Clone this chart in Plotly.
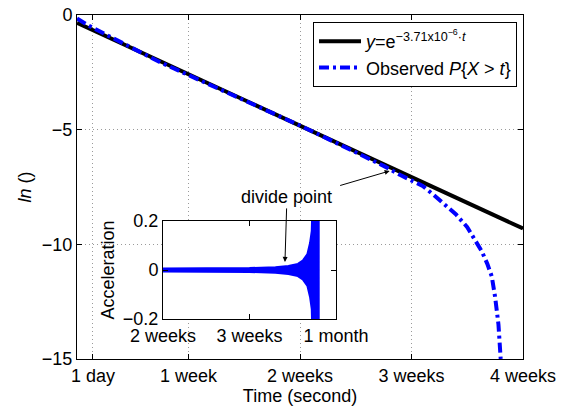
import plotly.graph_objects as go

WEEK = 604800
DAY = 86400

# ---- data ----
main_tick_vals = [DAY, WEEK, 2 * WEEK, 3 * WEEK, 4 * WEEK]
main_tick_text = ["1 day", "1 week", "2 weeks", "3 weeks", "4 weeks"]
y_tick_vals = [0, -5, -10, -15]

fit_t = [0, 4 * WEEK]
fit_y = [-0.34, -9.31]

obs_weeks = [0, 0.1, 0.25, 0.5, 0.75, 1.0, 1.25, 1.5, 1.75, 2.0, 2.25, 2.5, 2.75,
             2.9, 3.0, 3.1, 3.2, 3.3, 3.4, 3.5, 3.57, 3.63, 3.68, 3.72, 3.75, 3.78, 3.80]
obs_y = [-0.15, -0.45, -0.83, -1.47, -2.07, -2.62, -3.16, -3.72, -4.26, -4.82, -5.40, -5.97, -6.58,
         -6.98, -7.20, -7.45, -7.85, -8.25, -8.70, -9.25, -9.80, -10.30, -10.85, -11.40, -12.30, -13.50, -15.0]

inset_tick_vals = [2 * WEEK, 3 * WEEK, 4 * WEEK]
inset_tick_text = ["2 weeks", "3 weeks", "1 month"]
inset_range = [2 * WEEK, 4 * WEEK]
inset_yrange = [-0.2, 0.2]

acc_weeks = [2.0, 2.5, 3.0, 3.3, 3.45, 3.56, 3.62, 3.67, 3.70, 3.72, 3.73, 3.80]
acc_env = [0.006, 0.006, 0.008, 0.011, 0.016, 0.025, 0.04, 0.065, 0.11, 0.16, 0.3, 0.3]

# ---- figure ----
FONT = "Liberation Sans, Arial, sans-serif"
FS = 18
BLUE = "#0000ff"

obs_t = [w * WEEK for w in obs_weeks]
acc_t = [w * WEEK for w in acc_weeks]

fig = go.Figure()

fig.add_trace(go.Scatter(
    x=fit_t, y=fit_y, mode="lines",
    line=dict(color="black", width=4),
    name="<i>y</i>=e<sup>−3.71x10<sup>−6</sup>·<i>t</i></sup>",
    xaxis="x", yaxis="y"))
fig.add_trace(go.Scatter(
    x=obs_t, y=obs_y, mode="lines",
    line=dict(color=BLUE, width=4, dash="10px,4px,3px,4px"),
    name="Observed <i>P</i>{<i>X</i> > <i>t</i>}",
    xaxis="x", yaxis="y"))

# white backdrop of the inset
fig.add_trace(go.Scatter(
    x=[inset_range[0], inset_range[1], inset_range[1], inset_range[0]],
    y=[inset_yrange[0], inset_yrange[0], inset_yrange[1], inset_yrange[1]],
    fill="toself", fillcolor="white", mode="lines", line=dict(width=0, color="white"),
    showlegend=False, hoverinfo="skip", xaxis="x2", yaxis="y2"))

# acceleration envelope
fig.add_trace(go.Scatter(
    x=acc_t + acc_t[::-1],
    y=acc_env + [-v for v in acc_env[::-1]],
    fill="toself", fillcolor=BLUE, mode="lines", line=dict(color=BLUE, width=2),
    showlegend=False, hoverinfo="skip", xaxis="x2", yaxis="y2"))

W, H = 564, 410
OFF = 8  # page body margin
def px(x):
    return (x - OFF) / W
def py(y):
    return 1 - (y - OFF) / H

axis_common = dict(
    showline=True, linecolor="black", linewidth=1, mirror="allticks",
    ticks="inside", ticklen=5, tickcolor="black", zeroline=False, automargin=False,
    ticklabeloverflow="allow",
    tickfont=dict(family=FONT, size=FS, color="black"),
)
grid = dict(showgrid=True, gridcolor="#9a9a9a", griddash="1px,3px", gridwidth=1)

fig.update_layout(
    template="none",
    width=W, height=H,
    margin=dict(l=0, r=0, t=0, b=0, pad=0, autoexpand=False),
    paper_bgcolor="white", plot_bgcolor="white",
    font=dict(family=FONT, size=FS, color="black"),
    xaxis=dict(domain=[px(77), px(523)], range=[0, 4 * WEEK],
               tickvals=main_tick_vals, ticktext=main_tick_text,
               title=dict(text="Time (second)", font=dict(family=FONT, size=FS), standoff=0),
               **grid, **axis_common),
    yaxis=dict(domain=[py(359), py(15)], range=[-15, 0],
               tickvals=y_tick_vals,
               title=dict(text="<i>ln</i> ()", font=dict(family=FONT, size=FS), standoff=5),
               **grid, **axis_common),
    xaxis2=dict(domain=[px(163), px(336)], range=inset_range, anchor="y2",
                tickvals=inset_tick_vals, ticktext=inset_tick_text, showgrid=False,
                **axis_common),
    yaxis2=dict(domain=[py(319), py(221)], range=inset_yrange, anchor="x2",
                tickvals=[-0.2, 0, 0.2], ticktext=["−0.2", "0", "0.2"], showgrid=False,
                title=dict(text="Acceleration", font=dict(family=FONT, size=FS), standoff=3),
                **axis_common),
    legend=dict(x=px(517), y=py(22), xanchor="right", yanchor="top",
                bgcolor="white", bordercolor="black", borderwidth=1, itemwidth=42,
                font=dict(family=FONT, size=FS, color="black")),
    showlegend=True,
)

fig.add_annotation(
    x=3.41 * WEEK, y=0.033, xref="x2", yref="y2",
    text="divide point", showarrow=True, arrowhead=2, arrowsize=1, arrowwidth=1,
    arrowcolor="black", ax=2, ay=-65, font=dict(family=FONT, size=FS, color="black"))
fig.add_annotation(
    x=2.804 * WEEK, y=-6.80, xref="x", yref="y",
    text="", showarrow=True, arrowhead=2, arrowsize=1, arrowwidth=1,
    arrowcolor="black", ax=-51, ay=15)

fig.write_html("out.html")
